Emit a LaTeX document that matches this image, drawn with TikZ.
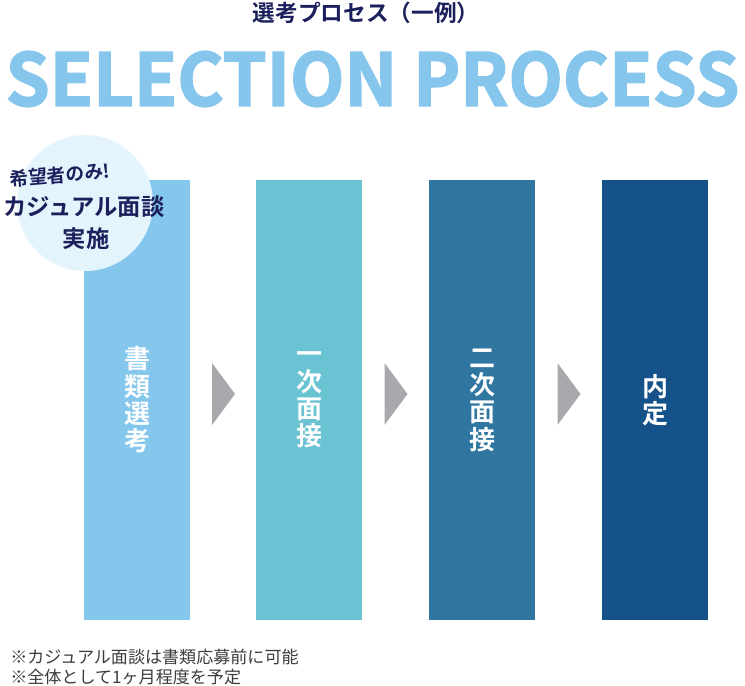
\documentclass[tikz,border=0pt]{standalone}
\usepackage{fontspec}
\setmainfont{Noto Sans CJK JP}
\newfontfamily\jpbold{Noto Sans CJK JP Bold}
\newfontfamily\jpheavy[FakeBold=2.2]{Noto Sans CJK JP Bold}
\usetikzlibrary{calc}

\definecolor{navy}{RGB}{27,32,92}
\definecolor{skyblue}{RGB}{134,198,236}
\definecolor{barone}{RGB}{133,198,236}
\definecolor{bartwo}{RGB}{105,195,210}
\definecolor{barthree}{RGB}{47,119,160}
\definecolor{barfour}{RGB}{21,82,137}
\definecolor{bubble}{RGB}{227,244,252}
\definecolor{arrowgray}{RGB}{167,169,172}
\definecolor{notegray}{RGB}{60,60,60}

\tikzset{
  stagebar/.style={minimum width=79.5pt,minimum height=330pt,inner sep=0pt,
    font=\jpbold\fontsize{19.5}{20.5}\selectfont,text=white,align=center},
  stagearrow/.style={fill=arrowgray,draw=none},
  bubbletext/.style={inner sep=0pt,text=navy},
}

\begin{document}
\begin{tikzpicture}[x=0.75pt,y=0.75pt,yscale=-1,xscale=1]
\useasboundingbox (0,0) rectangle (745,685);

% Title
\node (title) at (366,13) [inner sep=0pt,text=navy,font=\jpbold\fontsize{17}{17}\selectfont] {選考プロセス（一例）};
\node (headline) at (372.5,79) [inner sep=0pt,text=skyblue] {\resizebox{550pt}{41pt}{\jpheavy SELECTION PROCESS}};

% Stage bars
\node (shorui) at (137,400) [stagebar,fill=barone] {書\\類\\選\\考};
\node (ichiji) at (309,400) [stagebar,fill=bartwo] {一\\次\\面\\接};
\node (niji) at (482,400) [stagebar,fill=barthree] {二\\次\\面\\接};
\node (naitei) at (655,400) [stagebar,fill=barfour] {内\\定};

% Arrows between bars
\foreach \a/\b in {shorui/ichiji,ichiji/niji,niji/naitei}{
  \coordinate (m) at ($(\a.east)!0.5!(\b.west)$);
  \fill[stagearrow] ($(m)+(-11,-37)$) -- ($(m)+(12,-6)$) -- ($(m)+(-11,25)$) -- cycle;
}

% Casual interview bubble
\node (bubble) at (85,203) [circle,fill=bubble,minimum size=102pt,inner sep=0pt] {};
\node (kibou) at (60,175) [bubbletext,rotate=5,font=\jpbold\fontsize{14}{14}\selectfont] {希望者のみ!};
\node (casual) at (84,207) [bubbletext,font=\jpbold\fontsize{17.5}{18}\selectfont] {カジュアル面談};
\node (jisshi) at (86,239) [bubbletext,font=\jpbold\fontsize{17.5}{18}\selectfont] {実施};

% Notes
\node (note) at (10,667) [anchor=west,inner sep=0pt,text=notegray,align=left,font=\fontsize{12.8}{15}\selectfont] {※カジュアル面談は書類応募前に可能\\※全体として1ヶ月程度を予定};

\end{tikzpicture}
\end{document}
